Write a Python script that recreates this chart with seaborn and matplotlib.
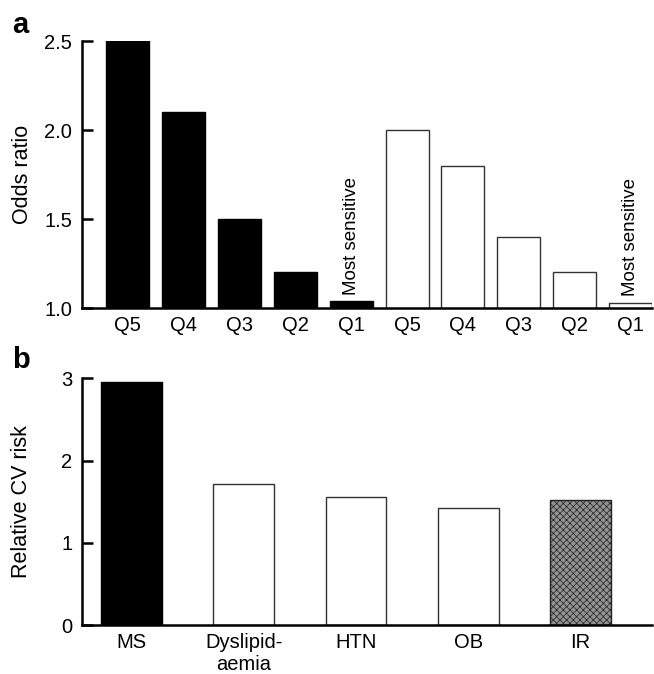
import matplotlib.pyplot as plt
import numpy as np
import pandas as pd
import seaborn as sns

# panel a: odds ratio by sensitivity quintile, two groups
quintiles = ['Q5', 'Q4', 'Q3', 'Q2', 'Q1']
odds_black = [2.5, 2.1, 1.5, 1.2, 1.04]
odds_white = [2.0, 1.8, 1.4, 1.2, 1.03]

# panel b: relative CV risk by component
components = ['MS', 'Dyslipid-\naemia', 'HTN', 'OB', 'IR']
cv_risk = [2.95, 1.72, 1.56, 1.42, 1.52]

sns.set_style("ticks")
plt.rcParams['font.family'] = ['Liberation Sans', 'DejaVu Sans']
plt.rcParams['font.size'] = 14
for key in ['text.color', 'axes.labelcolor', 'xtick.color', 'ytick.color',
            'axes.edgecolor']:
    plt.rcParams[key] = 'black'
plt.rcParams['hatch.color'] = '#cdcdcd'
plt.rcParams['hatch.linewidth'] = 0.5

fig = plt.figure(figsize=(6.54, 6.74), dpi=100)
ax_a = fig.add_axes([0.1254, 0.543, 0.872, 0.396])
ax_b = fig.add_axes([0.1254, 0.0727, 0.872, 0.366])

# ---- panel a
df_a = pd.DataFrame({
    'key': [f'black_{q}' for q in quintiles] + [f'white_{q}' for q in quintiles],
    'quintile': quintiles + quintiles,
    'odds': odds_black + odds_white,
    'group': ['black'] * 5 + ['white'] * 5,
})
sns.barplot(data=df_a, x='key', y='odds', order=list(df_a['key']), width=0.77,
            color='black', ax=ax_a, errorbar=None)
for patch, grp in zip(ax_a.patches, df_a['group']):
    if grp == 'black':
        patch.set_facecolor('black')
        patch.set_edgecolor('black')
    else:
        patch.set_facecolor('white')
        patch.set_edgecolor('#333333')
    patch.set_linewidth(1.0)

ax_a.set_ylim(1.0, 2.5)
ax_a.set_xlim(-0.82, 9.39)
ax_a.set_yticks([1.0, 1.5, 2.0, 2.5])
ax_a.set_yticklabels(['1.0', '1.5', '2.0', '2.5'])
ax_a.set_xticks(range(len(df_a)))
ax_a.set_xticklabels(df_a['quintile'])
ax_a.set_xlabel('')
ax_a.set_ylabel('Odds ratio', fontsize=15.5)
ax_a.yaxis.set_label_coords(-0.086, 0.5)

for i, v in enumerate(df_a['odds']):
    if df_a['quintile'][i] == 'Q1':
        ax_a.text(i, v + 0.035, 'Most sensitive', rotation=90, ha='center',
                  va='bottom', fontsize=13.5)

ax_a.text(-0.122, 1.06, 'a', transform=ax_a.transAxes, fontsize=21,
          fontweight='bold', ha='left', va='center')

# ---- panel b
df_b = pd.DataFrame({'component': components, 'risk': cv_risk})
sns.barplot(data=df_b, x='component', y='risk', width=0.54, color='white',
            ax=ax_b, errorbar=None)
for patch, comp in zip(ax_b.patches, df_b['component']):
    if comp == 'MS':
        patch.set_facecolor('black')
        patch.set_edgecolor('black')
    elif comp == 'IR':
        patch.set_facecolor('#929292')
        patch.set_edgecolor('#222222')
        patch.set_hatch('xxxxx')
    else:
        patch.set_facecolor('white')
        patch.set_edgecolor('#333333')
    patch.set_linewidth(1.0)

ax_b.set_ylim(0, 3)
ax_b.set_xlim(-0.44, 4.64)
ax_b.set_yticks([0, 1, 2, 3])
ax_b.set_xlabel('')
ax_b.set_ylabel('Relative CV risk', fontsize=15.5)
ax_b.yaxis.set_label_coords(-0.088, 0.5)
ax_b.text(-0.122, 1.073, 'b', transform=ax_b.transAxes, fontsize=21,
          fontweight='bold', ha='left', va='center')

for ax in (ax_a, ax_b):
    sns.despine(ax=ax)
    ax.spines['left'].set_linewidth(1.8)
    ax.spines['bottom'].set_linewidth(1.8)
    ax.tick_params(axis='y', direction='in', length=8, width=1.8, pad=7,
                   labelsize=14.5)
    ax.tick_params(axis='x', length=0, pad=6, labelsize=14.5)

fig.savefig('out.png', dpi=100)
